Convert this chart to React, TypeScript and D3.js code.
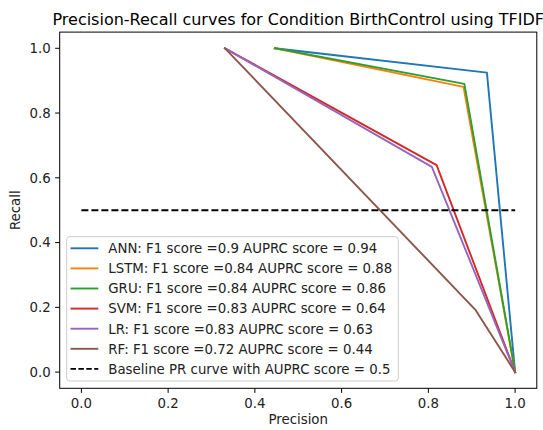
import * as d3 from 'd3';

const models = ['ANN', 'LSTM', 'GRU', 'SVM', 'LR', 'RF'];
const f1Scores = ['0.9', '0.84', '0.84', '0.83', '0.83', '0.72'];
const auprcScores = ['0.94', '0.88', '0.86', '0.64', '0.63', '0.44'];
// precision / recall points per model
const precisions = [
  [0.446, 0.935, 1.0],
  [0.446, 0.881, 1.0],
  [0.446, 0.883, 1.0],
  [0.331, 0.819, 1.0],
  [0.331, 0.808, 1.0],
  [0.331, 0.908, 1.0]
];
const recalls = [
  [1.0, 0.925, 0.0],
  [1.0, 0.881, 0.0],
  [1.0, 0.89, 0.0],
  [1.0, 0.639, 0.0],
  [1.0, 0.634, 0.0],
  [1.0, 0.193, 0.0]
];
const baselineX = [0, 1];
const baselineY = [0.5, 0.5];
const baselineScore = '0.5';
const ticks = [0, 0.2, 0.4, 0.6, 0.8, 1.0];
const colors = ['#1f77b4', '#ff7f0e', '#2ca02c', '#d62728', '#9467bd', '#8c564b'];

export default function App() {
  const width = 543;
  const height = 430;
  const margin = { left: 59.7, right: 6.2, top: 32.1, bottom: 41.7 };
  const font = 'DejaVu Sans, sans-serif';
  const fs = 13.33;

  const x = d3
    .scaleLinear()
    .domain([-0.05, 1.05])
    .range([margin.left, width - margin.right]);
  const y = d3
    .scaleLinear()
    .domain([-0.05, 1.05])
    .range([height - margin.bottom, margin.top]);

  const line = d3
    .line<[number, number]>()
    .x((d) => x(d[0]))
    .y((d) => y(d[1]));

  const series = models.map((m, i) => ({
    label: `${m}: F1 score =${f1Scores[i]} AUPRC score = ${auprcScores[i]}`,
    color: colors[i],
    points: precisions[i].map((p, j) => [p, recalls[i][j]] as [number, number])
  }));
  const baseline = baselineX.map((v, i) => [v, baselineY[i]] as [number, number]);

  const legendLabels = [
    ...series.map((s) => ({ label: s.label, color: s.color, dash: '' })),
    {
      label: `Baseline PR curve with AUPRC score = ${baselineScore}`,
      color: '#000',
      dash: '5.5,2.4'
    }
  ];

  const [x0, x1] = x.range();
  const [y0, y1] = y.range();

  return (
    <svg
      width={width}
      height={height}
      style={{ position: 'absolute', left: 0, top: 0, fontFamily: font }}
    >
      <rect width={width} height={height} fill="#fff" />
      <text
        x={(x0 + x1) / 2}
        y={25}
        textAnchor="middle"
        fontSize={16}
        fill="#000"
      >
        Precision-Recall curves for Condition BirthControl using TFIDF
      </text>

      {/* curves */}
      {series.map((s) => (
        <path
          key={s.label}
          d={line(s.points) || ''}
          fill="none"
          stroke={s.color}
          strokeWidth={1.9}
          strokeLinejoin="round"
          strokeLinecap="square"
        />
      ))}
      <path
        d={line(baseline) || ''}
        fill="none"
        stroke="#000"
        strokeWidth={1.9}
        strokeDasharray="7,3"
      />

      {/* axes frame */}
      <rect
        x={x0}
        y={y1}
        width={x1 - x0}
        height={y0 - y1}
        fill="none"
        stroke="#000"
        strokeWidth={1}
      />
      {ticks.map((t) => (
        <g key={`x${t}`}>
          <line x1={x(t)} x2={x(t)} y1={y0} y2={y0 + 4.6} stroke="#000" />
          <text
            x={x(t)}
            y={y0 + 20}
            textAnchor="middle"
            fontSize={fs}
            fill="#222"
          >
            {t.toFixed(1)}
          </text>
        </g>
      ))}
      {ticks.map((t) => (
        <g key={`y${t}`}>
          <line x1={x0 - 4.6} x2={x0} y1={y(t)} y2={y(t)} stroke="#000" />
          <text
            x={x0 - 9}
            y={y(t) + 4.8}
            textAnchor="end"
            fontSize={fs}
            fill="#222"
          >
            {t.toFixed(1)}
          </text>
        </g>
      ))}
      <text
        x={(x0 + x1) / 2}
        y={424}
        textAnchor="middle"
        fontSize={fs}
        fill="#222"
      >
        Precision
      </text>
      <text
        transform={`translate(19.5, ${(y0 + y1) / 2}) rotate(-90)`}
        textAnchor="middle"
        fontSize={fs}
        fill="#222"
      >
        Recall
      </text>

      {/* legend */}
      <rect
        x={66.7}
        y={236.7}
        width={331.6}
        height={144.3}
        rx={3}
        fill="#fff"
        fillOpacity={0.8}
        stroke="#cccccc"
        strokeWidth={1}
      />
      {legendLabels.map((l, i) => {
        const ly = 248.3 + i * 20.1;
        return (
          <g key={l.label}>
            <line
              x1={70.5}
              x2={98.3}
              y1={ly}
              y2={ly}
              stroke={l.color}
              strokeWidth={1.9}
              strokeDasharray={l.dash || undefined}
            />
            <text x={108.3} y={ly + 4.8} fontSize={fs} fill="#222">
              {l.label}
            </text>
          </g>
        );
      })}
    </svg>
  );
}
